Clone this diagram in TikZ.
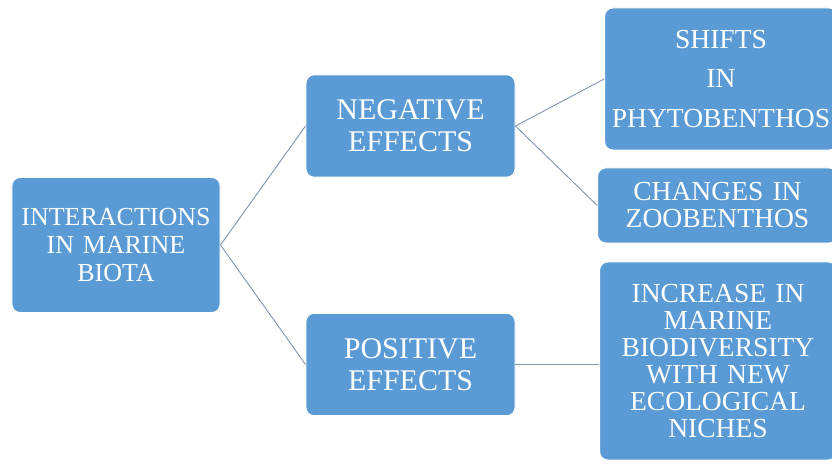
\documentclass[tikz,border=0pt]{standalone}
\usepackage{fontspec}
\setmainfont{Liberation Serif}
\definecolor{boxBlue}{HTML}{5B9BD5}
\definecolor{linkGray}{HTML}{8497B0}
\usepackage{tikz}
\usetikzlibrary{positioning}

\begin{document}
\begin{tikzpicture}[
  box/.style={draw=white, line width=0.8pt, fill=boxBlue, rounded corners=7pt,
              text=white, align=center, inner sep=0pt},
  rootbox/.style={box, font=\fontsize{22.2}{23.9}\selectfont,
                  text width=6cm, minimum width=6.24cm, minimum height=4.05cm},
  effect/.style={box, font=\fontsize{25.6}{27.6}\selectfont,
                 text width=6cm, minimum width=6.27cm, minimum height=3.07cm},
  leaf/.style={box, font=\fontsize{23.5}{23}\selectfont,
               text width=6.7cm, minimum width=7.1cm},
  link/.style={draw=linkGray, line width=0.8pt}
]
\useasboundingbox (0,0) rectangle (24.96,13.95);
\node[rootbox] (interact) at (3.48,6.6)   {INTERACTIONS\\IN MARINE\\BIOTA};
\node[effect]  (negative) at (12.315,10.17) {NEGATIVE\\EFFECTS};
\node[effect]  (positive) at (12.315,3.015) {POSITIVE\\EFFECTS};
\node[leaf, minimum width=6.98cm, minimum height=4.26cm,
      font=\fontsize{23.5}{34.1}\selectfont] (shifts) at (21.63,11.58)
      {SHIFTS\\IN\\PHYTOBENTHOS};
\node[leaf, minimum width=7.19cm, minimum height=2.25cm] (zoo) at (21.525,7.785)
      {CHANGES IN\\ZOOBENTHOS};
\node[leaf, minimum height=5.94cm] (increase) at (21.54,3.12)
      {INCREASE IN\\MARINE\\BIODIVERSITY\\WITH NEW\\ECOLOGICAL\\NICHES};
\draw[link] (interact.east) -- (negative.west);
\draw[link] (interact.east) -- (positive.west);
\draw[link] (negative.east) -- (shifts.west);
\draw[link] (negative.east) -- (zoo.west);
\draw[link] (positive.east) -- (positive.east -| increase.west);
\end{tikzpicture}
\end{document}
